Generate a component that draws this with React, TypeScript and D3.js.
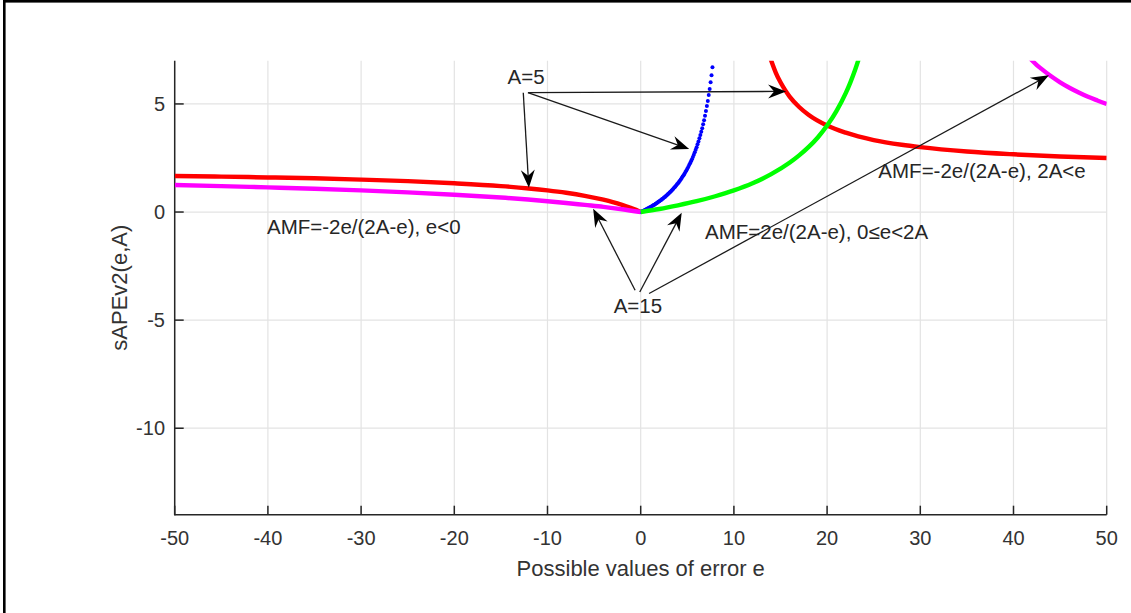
import React from "react";
import * as d3 from "d3";

// ---------- data ----------
const xTicks = [-50, -40, -30, -20, -10, 0, 10, 20, 30, 40, 50];
const xTickLabels = ["-50", "-40", "-30", "-20", "-10", "0", "10", "20", "30", "40", "50"];
const yTicks = [-10, -5, 0, 5];
const yTickLabels = ["-10", "-5", "0", "5"];

// A=5, e<0 (red)
const redLeft: [number, number][] = [
  [-50, 1.67], [-45, 1.64], [-40, 1.6], [-35, 1.56], [-30, 1.5], [-25, 1.43], [-20, 1.33],
  [-15, 1.2], [-12, 1.09], [-10, 1.0], [-8, 0.89], [-6, 0.75], [-4, 0.57], [-3, 0.46],
  [-2, 0.33], [-1, 0.18], [-0.5, 0.1], [0, 0],
];
// A=15, e<0 (magenta)
const magentaLeft: [number, number][] = [
  [-50, 1.25], [-45, 1.2], [-40, 1.14], [-35, 1.08], [-30, 1.0], [-25, 0.91], [-20, 0.8],
  [-15, 0.67], [-10, 0.5], [-8, 0.42], [-6, 0.33], [-4, 0.24], [-2, 0.13], [0, 0],
];
// A=5, 0<=e<2A (blue dots)
const blueDots: [number, number][] = [
  [0, 0], [0.1, 0.02], [0.2, 0.04], [0.3, 0.06], [0.4, 0.08], [0.5, 0.11], [0.6, 0.13], [0.7, 0.15],
  [0.8, 0.17], [0.9, 0.2], [1.0, 0.22], [1.1, 0.25], [1.2, 0.27], [1.3, 0.3], [1.4, 0.33], [1.5, 0.35],
  [1.6, 0.38], [1.7, 0.41], [1.8, 0.44], [1.9, 0.47], [2.0, 0.5], [2.1, 0.53], [2.2, 0.56], [2.3, 0.6],
  [2.4, 0.63], [2.5, 0.67], [2.6, 0.7], [2.7, 0.74], [2.8, 0.78], [2.9, 0.82], [3.0, 0.86], [3.1, 0.9],
  [3.2, 0.94], [3.3, 0.99], [3.4, 1.03], [3.5, 1.08], [3.6, 1.13], [3.7, 1.17], [3.8, 1.23], [3.9, 1.28],
  [4.0, 1.33], [4.1, 1.39], [4.2, 1.45], [4.3, 1.51], [4.4, 1.57], [4.5, 1.64], [4.6, 1.7], [4.7, 1.77],
  [4.8, 1.85], [4.9, 1.92], [5.0, 2.0], [5.1, 2.08], [5.2, 2.17], [5.3, 2.26], [5.4, 2.35], [5.5, 2.44],
  [5.6, 2.55], [5.7, 2.65], [5.8, 2.76], [5.9, 2.88], [6.0, 3.0], [6.1, 3.13], [6.2, 3.26], [6.3, 3.41],
  [6.4, 3.56], [6.5, 3.71], [6.6, 3.88], [6.7, 4.06], [6.8, 4.25], [6.9, 4.45], [7.0, 4.67], [7.1, 4.9],
  [7.2, 5.14], [7.3, 5.41], [7.4, 5.69], [7.5, 6.0], [7.6, 6.33], [7.7, 6.7],
];
// A=15, 0<=e<2A (green)
const greenMid: [number, number][] = [
  [0, 0], [2, 0.14], [4, 0.31], [6, 0.5], [8, 0.73], [10, 1.0], [12, 1.33], [14, 1.75], [16, 2.29],
  [17, 2.62], [18, 3.0], [19, 3.45], [20, 4.0], [21, 4.67], [22, 5.5], [22.5, 6.0], [23, 6.57], [23.4, 7.09],
];
// A=5, 2A<e (red)
const redRight: [number, number][] = [
  [13.9, 7.13], [14.5, 6.44], [15, 6.0], [15.5, 5.64], [16, 5.33], [17, 4.86], [18, 4.5], [20, 4.0],
  [22, 3.67], [25, 3.33], [28, 3.11], [30, 3.0], [35, 2.8], [40, 2.67], [45, 2.57], [50, 2.5],
];
// A=15, 2A<e (magenta)
const magentaRight: [number, number][] = [
  [41.8, 7.09], [42.5, 6.8], [43, 6.62], [44, 6.29], [45, 6.0], [46, 5.75], [47, 5.53], [48, 5.33],
  [49, 5.16], [50, 5.0],
];

// annotation arrows (data coordinates: from -> to)
const arrows: { from: [number, number]; to: [number, number] }[] = [
  { from: [-12.6, 5.52], to: [-12.0, 1.12] },
  { from: [-12.1, 5.52], to: [5.2, 2.92] },
  { from: [-12.1, 5.52], to: [15.6, 5.58] },
  { from: [-0.6, -3.62], to: [-5.1, 0.15] },
  { from: [-0.1, -3.7], to: [4.4, -0.03] },
  { from: [0.9, -3.77], to: [43.8, 6.33] },
];

const labels: { text: string; x: number; y: number; anchor: string }[] = [
  { text: "A=5", x: -12.3, y: 5.91, anchor: "middle" },
  { text: "A=15", x: -0.3, y: -4.69, anchor: "middle" },
  { text: "AMF=-2e/(2A-e), e<0", x: -40.1, y: -1.0, anchor: "start" },
  { text: "AMF=2e/(2A-e), 0\u2264e<2A", x: 6.9, y: -1.23, anchor: "start" },
  { text: "AMF=-2e/(2A-e), 2A<e", x: 25.5, y: 1.58, anchor: "start" },
];

// ---------- chart ----------
const W = 1131;
const H = 613;
const left = 174.7;
const right = 1106.7;
const top = 60.7;
const bottom = 514.7;
const FONT = "'Liberation Sans', Arial, Helvetica, sans-serif";
const AX = "#262626";
const TXT = "#333333";

export default function App() {
  const x = d3.scaleLinear().domain([-50, 50]).range([left, right]);
  const y = d3.scaleLinear().domain([-14, 7]).range([bottom, top]);
  const line = d3
    .line<[number, number]>()
    .x((d) => x(d[0]))
    .y((d) => y(d[1]))
    .curve(d3.curveMonotoneX);

  const arrowHead = (fx: number, fy: number, tx: number, ty: number) => {
    const a = Math.atan2(ty - fy, tx - fx);
    const L = 18, Wd = 14, N = 12;
    const c = Math.cos(a), s = Math.sin(a);
    const p = (u: number, v: number) => [tx + u * c - v * s, ty + u * s + v * c];
    const pts = [p(0, 0), p(-L, -Wd / 2), p(-N, 0), p(-L, Wd / 2)];
    return {
      d: "M" + pts.map((q) => q.join(",")).join("L") + "Z",
      end: p(-N + 1, 0),
    };
  };

  return (
    <svg
      width={W}
      height={H}
      style={{ position: "fixed", left: 0, top: 0, background: "#fff" }}
      fontFamily={FONT}
    >
      <rect x={0} y={0} width={W} height={H} fill="#fff" />
      <defs>
        <clipPath id="plotClip">
          <rect x={left} y={top} width={right - left} height={bottom - top} />
        </clipPath>
      </defs>

      {/* grid */}
      <g stroke="#e3e3e3" strokeWidth={1.2}>
        {xTicks.map((t) => (
          <line key={"gx" + t} x1={x(t)} x2={x(t)} y1={top} y2={bottom} />
        ))}
        {yTicks.map((t) => (
          <line key={"gy" + t} x1={left} x2={right} y1={y(t)} y2={y(t)} />
        ))}
      </g>

      {/* axes */}
      <g stroke={AX} strokeWidth={1.5}>
        <line x1={left} x2={left} y1={top} y2={bottom + 0.7} />
        <line x1={left} x2={right} y1={bottom} y2={bottom} />
        {xTicks.map((t) => (
          <line key={"tx" + t} x1={x(t)} x2={x(t)} y1={bottom} y2={bottom - 9} />
        ))}
        {yTicks.map((t) => (
          <line key={"ty" + t} x1={left} x2={left + 9} y1={y(t)} y2={y(t)} />
        ))}
      </g>

      {/* tick labels */}
      <g fill={TXT} fontSize={20}>
        {xTicks.map((t, i) => (
          <text key={"lx" + t} x={x(t)} y={545} textAnchor="middle">
            {xTickLabels[i]}
          </text>
        ))}
        {yTicks.map((t, i) => (
          <text key={"ly" + t} x={165} y={y(t)} dy="0.35em" textAnchor="end">
            {yTickLabels[i]}
          </text>
        ))}
      </g>

      {/* axis labels */}
      <text x={(left + right) / 2} y={576} textAnchor="middle" fontSize={22} fill={TXT}>
        Possible values of error e
      </text>
      <text
        transform={`translate(127,${(top + bottom) / 2}) rotate(-90)`}
        textAnchor="middle"
        fontSize={22}
        fill={TXT}
      >
        sAPEv2(e,A)
      </text>

      {/* curves */}
      <g clipPath="url(#plotClip)" fill="none" strokeWidth={4.4} strokeLinejoin="round">
        <path d={line(redLeft) || ""} stroke="#ff0000" />
        <path d={line(redRight) || ""} stroke="#ff0000" />
        <g fill="#0000ff">
          {blueDots.map((d, i) => (
            <circle key={"b" + i} cx={x(d[0])} cy={y(d[1])} r={2} />
          ))}
        </g>
        <path d={line(magentaLeft) || ""} stroke="#ff00ff" />
        <path d={line(greenMid) || ""} stroke="#00ff00" />
        <path d={line(magentaRight) || ""} stroke="#ff00ff" />
      </g>

      {/* annotations */}
      <g>
        {arrows.map((a, i) => {
          const fx = x(a.from[0]), fy = y(a.from[1]);
          const tx = x(a.to[0]), ty = y(a.to[1]);
          const h = arrowHead(fx, fy, tx, ty);
          return (
            <g key={"ar" + i}>
              <line x1={fx} y1={fy} x2={h.end[0]} y2={h.end[1]} stroke="#1a1a1a" strokeWidth={1.3} />
              <path d={h.d} fill="#000" />
            </g>
          );
        })}
      </g>
      <g fill="#262626" fontSize={20.5}>
        {labels.map((l, i) => (
          <text key={"t" + i} x={x(l.x)} y={y(l.y)} textAnchor={l.anchor}>
            {l.text}
          </text>
        ))}
      </g>

      {/* outer frame (left and top) */}
      <rect x={3} y={0} width={2.6} height={H} fill="#000" />
      <rect x={3} y={0} width={W - 3} height={2.6} fill="#000" />
    </svg>
  );
}
